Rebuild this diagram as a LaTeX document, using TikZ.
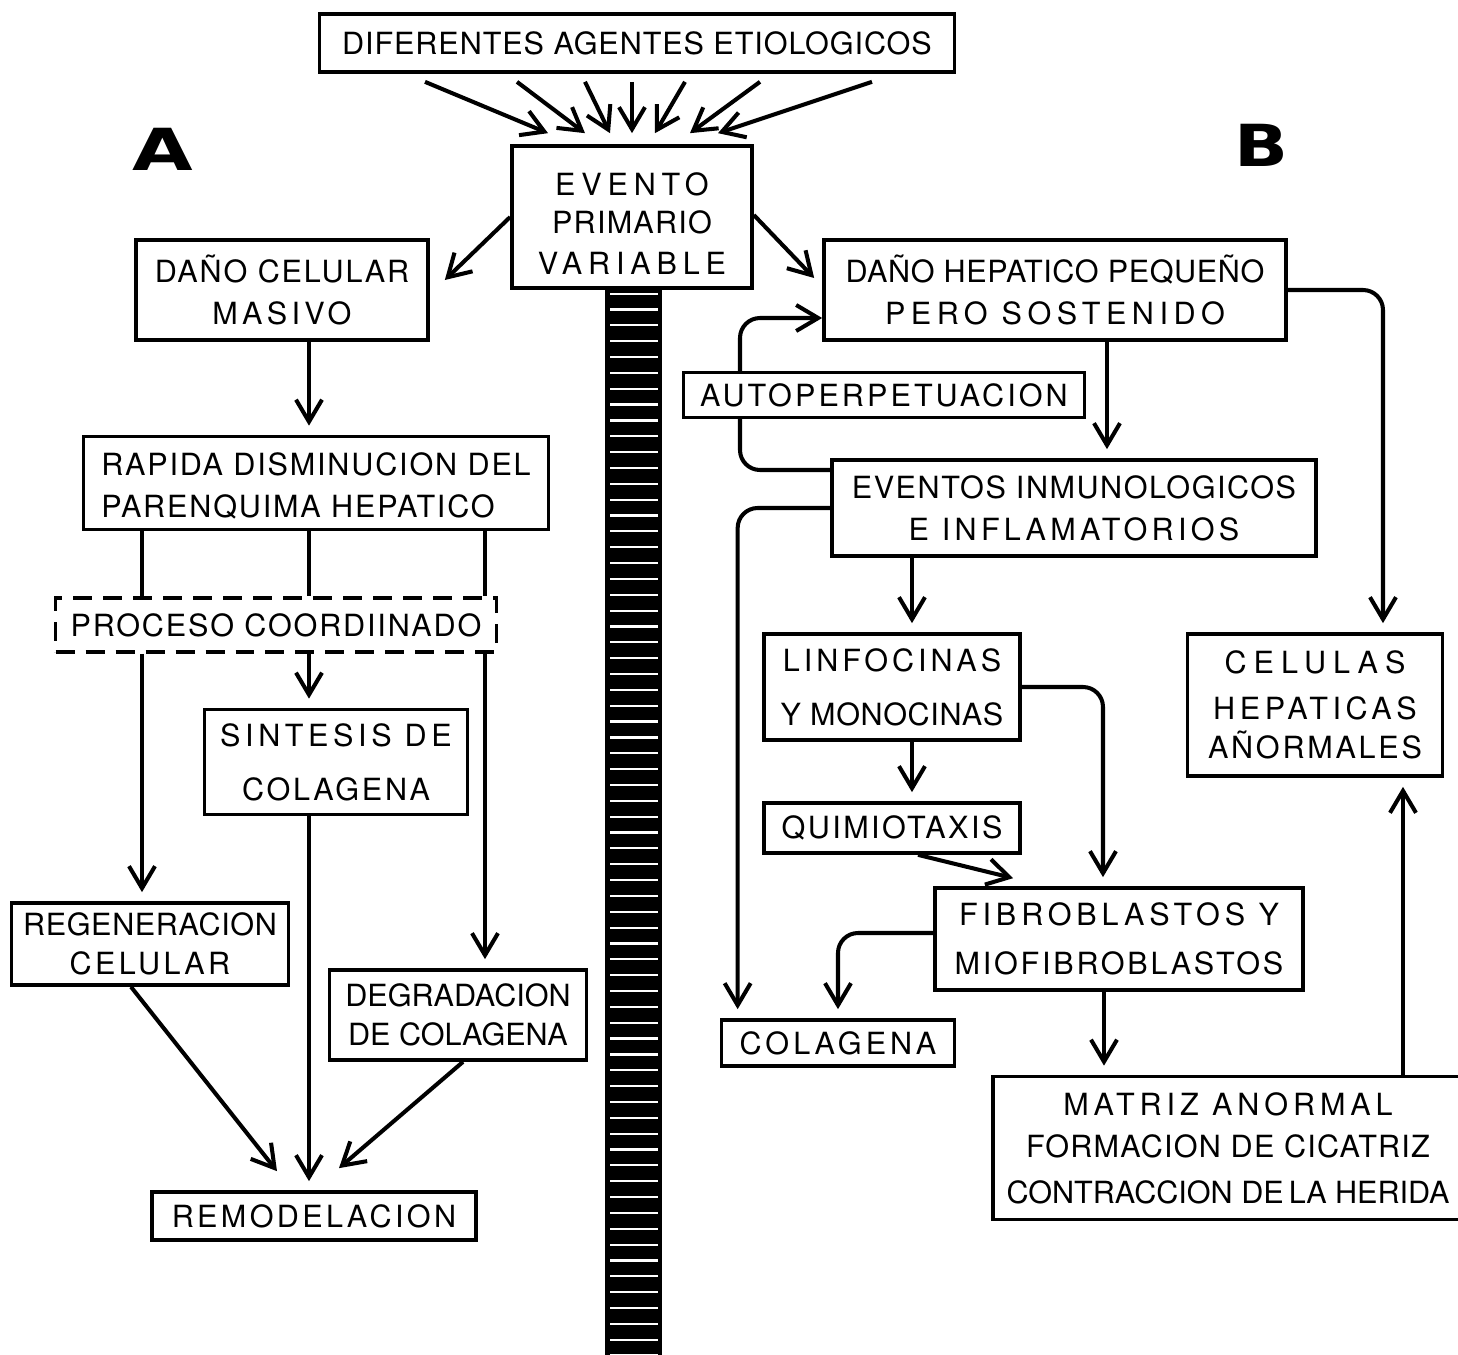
\documentclass[tikz,border=0pt]{standalone}
\usepackage{fontspec}
\usepackage{graphicx}
\setmainfont{TeX Gyre Heros}
\newfontfamily\heavyfont{DejaVu Sans}
\usetikzlibrary{arrows.meta}
\newcommand{\ls}[1]{\addfontfeatures{LetterSpace=#1}}

\begin{document}
\begin{tikzpicture}[x=0.1mm,y=-0.1mm,
	box/.style={draw,line width=1.05pt,fill=white,inner sep=0pt,align=center,font=\fontsize{8.7}{12}\selectfont},
	dbox/.style={box,dash pattern=on 1.9mm off 1.1mm},
	arr/.style={line width=1.15pt,-{Straight Barb[length=2.2mm,width=2.6mm]}},
	arrgap/.style={arr,shorten >=0.9mm},
	link/.style={line width=1.15pt},
	big/.style={font=\heavyfont\bfseries\fontsize{16.5}{18}\selectfont,inner sep=0pt}]
\useasboundingbox (0,0) rectangle (1458,1355);
\clip (0,0) rectangle (1458,1355);

% central bar
\fill (605,288) rectangle (662,1360);
\foreach \k in {0,...,67}
	\fill[white] (610,{292.5+15.85*\k}) rectangle +(48,2.2);

\node[box,minimum width=63.5mm,minimum height=5.8mm] (agentes) at (637,43) {\ls{3}DIFERENTES AGENTES ETIOLOGICOS};
\node[box,minimum width=24mm,minimum height=14.2mm] (evento) at (632,217) {\rule{0pt}{10pt}{\ls{19}EVENTO}\\[-1pt]{\ls{4}PRIMARIO}\\[-0.5pt]{\ls{19}VARIABLE}};

\node[big] (labA) at (163,149) {\scalebox{1.35}[1]{A}};
\node[big] (labB) at (1261,145) {\scalebox{1.22}[1]{B}};

% side A
\node[box,minimum width=29.2mm,minimum height=10mm] (masivo) at (282,290) {{\ls{6}DAÑO CELULAR}\\{\ls{14}MASIVO}};
\node[box,align=left,minimum width=46.5mm,minimum height=9.3mm] (rapida) at (316,483) {\rule{0pt}{8pt}{\ls{6}RAPIDA DISMINUCION DEL}\\{\ls{6}PARENQUIMA HEPATICO}};
\node[dbox,minimum width=44.1mm,minimum height=5.4mm] (proceso) at (276,625) {\ls{6}PROCESO COORDIINADO};
\node[box,minimum width=26.3mm,minimum height=10.5mm] (sintesis) at (336,762) {{\ls{15}SINTESIS DE}\\[3.4pt]{\ls{9}COLAGENA}};
\node[box,minimum width=27.7mm,minimum height=8.2mm] (regen) at (150,944) {{\ls{2}REGENERACION}\\[-1pt]{\ls{11}CELULAR}};
\node[box,minimum width=25.7mm,minimum height=9mm] (degrad) at (458,1015) {DEGRADACION\\[-1pt]DE COLAGENA};
\node[box,minimum width=32.4mm,minimum height=4.8mm] (remodel) at (314,1216) {\ls{11}REMODELACION};

% side B
\node[box,minimum width=46.2mm,minimum height=10mm] (hepatico) at (1055,290) {{\ls{2}DAÑO HEPATICO PEQUEÑO}\\{\ls{18}PERO SOSTENIDO}};
\node[box,minimum width=48.4mm,minimum height=9.6mm] (inmuno) at (1074,508) {{\ls{5}EVENTOS INMUNOLOGICOS}\\{\ls{14}E INFLAMATORIOS}};
\node[box,minimum width=25.6mm,minimum height=10.6mm] (linfo) at (892,687) {{\ls{13}LINFOCINAS}\\[3.4pt]{\ls{2}Y MONOCINAS}};
\node[box,minimum width=25.6mm,minimum height=5mm] (quimio) at (892,828) {\ls{8}QUIMIOTAXIS};
\node[box,minimum width=36.8mm,minimum height=10.2mm] (fibro) at (1119,939) {{\ls{16}FIBROBLASTOS Y}\\[2pt]{\ls{9}MIOFIBROBLASTOS}};
\node[box,minimum width=23.3mm,minimum height=4.6mm] (colagena) at (838,1043) {\ls{13}COLAGENA};
\node[box,minimum width=25.5mm,minimum height=14.2mm] (celulas) at (1315,705) {{\ls{23}CELULAS}\\[1pt]{\ls{15}HEPATICAS}\\[-1pt]{\ls{9}AÑORMALES}};
\node[box,minimum width=47mm,minimum height=14.3mm] (matriz) at (1228,1148) {{\ls{16}MATRIZ ANORMAL}\\{\ls{4}FORMACION DE CICATRIZ}\\[1pt]{\ls{0}CONTRACCION DE\,LA HERIDA}};

\coordinate (colA) at (142,0);
\coordinate (colB) at (309,0);
\coordinate (colC) at (485,0);
\coordinate (colI) at (1107,0);
\coordinate (colL) at (912,0);
\coordinate (colF) at (1104,0);
\coordinate (colR) at (1383,0);
\coordinate (colM) at (1403,0);
\coordinate (loop) at (740,400);

% agents
\foreach \sx/\ex in {-212/-84,-120/-47,-52/-22,-5/0,48/23,123/58,235/86}
	\draw[arr] ([xshift=\sx*0.1mm,yshift=-0.8mm]agentes.south) -- ([xshift=\ex*0.1mm,yshift=1.1mm]evento.north);
\draw[arr] (evento.west) -- ([xshift=1.5mm,yshift=1mm]masivo.east);
\draw[arr] ([yshift=0.2mm]evento.east) -- ([xshift=-0.8mm,yshift=1.2mm]hepatico.west);

% A
\draw[arrgap] (colB |- masivo.south) -- (colB |- rapida.north);
\draw[link] (colA |- rapida.south) -- (colA |- proceso.north);
\draw[link] (colB |- rapida.south) -- (colB |- proceso.north);
\draw[link] (colC |- rapida.south) -- (colC |- proceso.north);
\draw[arrgap] (colA |- proceso.south) -- (colA |- regen.north);
\draw[arrgap] (colB |- proceso.south) -- (colB |- sintesis.north);
\draw[arrgap] (colC |- proceso.south) -- (colC |- degrad.north);
\draw[arrgap] (colB |- sintesis.south) -- (colB |- remodel.north);
\draw[arr] ([xshift=-1.9mm]regen.south) -- ([xshift=-3.7mm,yshift=1.9mm]remodel.north);
\draw[arr] ([xshift=0.5mm]degrad.south) -- ([xshift=2.5mm,yshift=2.2mm]remodel.north);

% B
\draw[arrgap,rounded corners=2mm] (hepatico.east) -| (colR |- celulas.north);
\draw[arrgap] (colI |- hepatico.south) -- (colI |- inmuno.north);
\draw[arr,rounded corners=2mm] ([yshift=3.8mm]inmuno.west) -| (loop) |- ([yshift=-2.8mm]hepatico.west);
\node[box,minimum width=40.1mm,minimum height=4.5mm] (autoper) at (884,395) {\ls{10}AUTOPERPETUACION};
\draw[arrgap,rounded corners=2mm] (inmuno.west) -| ([xshift=1.8mm]colagena.north west);
\draw[arrgap] (colL |- inmuno.south) -- (colL |- linfo.north);
\draw[arrgap] (colL |- linfo.south) -- (colL |- quimio.north);
\draw[arrgap,rounded corners=2mm] (linfo.east) -| ([xshift=-1.6mm]fibro.north);
\draw[arr] ([xshift=2.6mm]quimio.south) -- ([xshift=8mm,yshift=0.8mm]fibro.north west);
\draw[arrgap,rounded corners=2mm] ([yshift=0.6mm]fibro.west) -| (colagena.north);
\draw[arrgap] (colF |- fibro.south) -- (colF |- matriz.north);
\draw[arrgap] (colM |- matriz.north) -- (colM |- celulas.south);

\end{tikzpicture}
\end{document}
